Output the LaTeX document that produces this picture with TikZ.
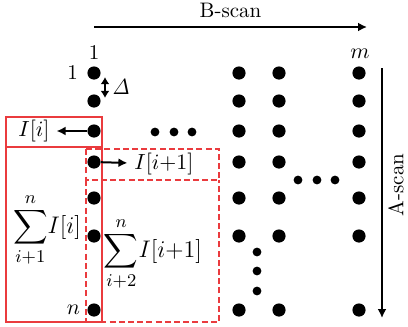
\documentclass[tikz,border=0pt]{standalone}
\usepackage{amsmath}
\usetikzlibrary{positioning,arrows.meta}
\definecolor{ink}{HTML}{000000}
\definecolor{boxred}{HTML}{EA3B3E}

\begin{document}
\begin{tikzpicture}[
  x=0.5pt,y=-0.5pt,
  font=\fontsize{10.5}{12.5}\selectfont,
  >={Latex[length=4.5pt,width=4.5pt]},
  dot/.style={circle,fill=ink,minimum size=6.6pt,inner sep=0pt},
  sdot/.style={circle,fill=ink,minimum size=4.4pt,inner sep=0pt},
  rbox/.style={draw=boxred,line width=0.9pt},
  dbox/.style={draw=boxred,line width=0.9pt,dash pattern=on 3pt off 1.6pt},
  sumlbl/.style={font=\fontsize{13}{15}\selectfont,inner sep=1pt},
  arr/.style={->,line width=1pt},
]
\useasboundingbox (0,0) rectangle (408,327);

%================================================================ RED BOXES ===
\draw[rbox] (6,117) rectangle (102,147);
\draw[rbox] (6,147) rectangle (102,322);
\draw[dbox] (86,149) rectangle (219,180);
\draw[dbox] (86,180) -- (86,322) -- (219,322) -- (219,180);

%===================================================================== GRID ===
\foreach \c/\x in {1/94,2/239,3/279,4/359}{
  \foreach \r/\y in {1/73,2/101,3/131,4/162,5/198,6/236,7/310}{
    \node[dot] (p\c-\r) at (\x,\y) {};}
}

% ellipses between the columns and rows
\foreach \i/\x in {1/155,2/174,3/192}
  \node[sdot] (ha\i) at (\x,132) {};
\foreach \i/\x in {1/298,2/317,3/335}
  \node[sdot] (hb\i) at (\x,180) {};
\foreach \i/\y in {1/252,2/271,3/291}
  \node[sdot] (va\i) at (257,\y) {};

%=================================================================== LABELS ===
\node (c1) at (94,53) {1};
\node (cm) at (360,54) {$m$};
\node[left=1pt of p1-1] (r1) {1};
\node[left=0pt of p1-7] (rn) {$n$};

% spacing between samples
\coordinate (dA) at (105,77);
\coordinate (dB) at (105,98);
\draw[<->,line width=1pt,>={Latex[length=3.6pt,width=4.5pt]}] (dA) -- (dB);
\node (delta) at (121,87) {$\mathit{\Delta}$};

% read-out of a single row
\node (Ii) at (34,131) {$I[i]$};
\draw[arr] (p1-3) -- (Ii);
\node (Ii1) at (164,164) {$I[i{+}1]$};
\draw[arr] (p1-4) -- (Ii1);

% accumulated sums
\node[sumlbl] (S1) at (47,230) {$\displaystyle\sum_{i+1}^{n}\! I[i]$};
\node[sumlbl] (S2) at (153,254) {$\displaystyle\sum_{i+2}^{n}\! I[i{+}1]$};

%=================================================================== SCANS ===
\coordinate (bs) at (94,27);
\coordinate (be) at (367,27);
\draw[arr] (bs) -- (be) node[midway,above=1pt] (bscan) {B-scan};

\coordinate (as) at (382,68);
\coordinate (ae) at (382,318);
\draw[arr] (as) -- (ae);
\node[rotate=90,inner sep=1pt] (ascan) at (396,185) {A-scan};

\end{tikzpicture}
\end{document}
